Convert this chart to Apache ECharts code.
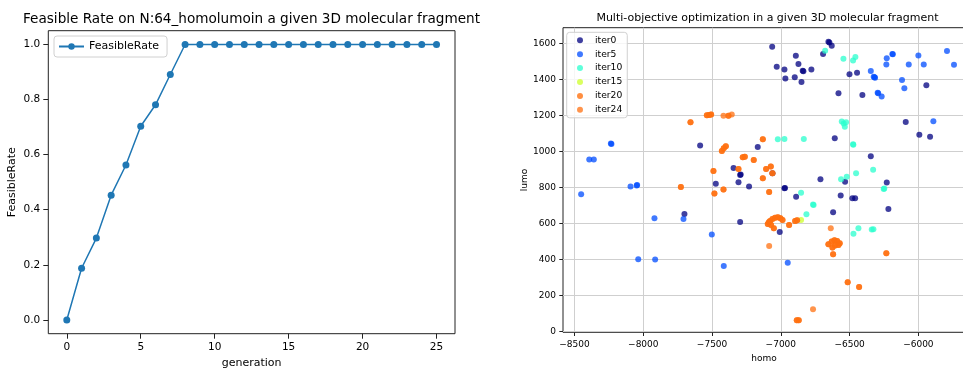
<!DOCTYPE html>
<html>
<head>
<meta charset="utf-8">
<script src="https://cdn.jsdelivr.net/npm/echarts@6/dist/echarts.min.js"></script>
<style>
  html, body { margin: 0; padding: 0; background: #fff; }
  #chart { width: 963px; height: 368px; }
</style>
</head>
<body>
<div id="chart"></div>
<script>
// left panel
var generation = [0, 1, 2, 3, 4, 5, 6, 7, 8, 9, 10, 11, 12, 13, 14, 15, 16, 17, 18, 19, 20, 21, 22, 23, 24, 25];
var feasibleRate = [0, 0.1875, 0.297, 0.453, 0.5625, 0.703, 0.781, 0.891, 1, 1, 1, 1, 1, 1, 1, 1, 1, 1, 1, 1, 1, 1, 1, 1, 1, 1];
var rateTicks = [0, 0.2, 0.4, 0.6, 0.8, 1.0];
var genTicks = [0, 5, 10, 15, 20, 25];

// right panel: [homo, lumo]
var iter0Points = [
    [-7063, 1583], [-7030, 1472], [-6974, 1457], [-6967, 1407], [-6891, 1533], [-6872, 1487],
    [-6899, 1413], [-6841, 1450], [-6836, 1447], [-6850, 1387], [-6778, 1457], [-6654, 1611],
    [-6647, 1607], [-6630, 1589], [-6693, 1543], [-6501, 1430], [-6446, 1439], [-6581, 1324],
    [-6407, 1315], [-5942, 1369], [-6092, 1165], [-5993, 1094], [-5915, 1083], [-6608, 1074],
    [-6346, 974], [-7587, 1034], [-7168, 1026], [-7344, 909], [-7296, 870], [-7292, 873],
    [-7308, 830], [-7473, 822], [-7231, 806], [-6974, 796], [-6970, 798], [-6712, 846],
    [-6533, 833], [-6230, 828], [-6565, 757], [-6480, 741], [-6460, 741], [-6889, 750],
    [-6620, 663], [-6218, 681], [-7701, 654], [-7296, 609], [-7008, 554], [-7061, 880]
];
var iter5Points = [
    [-8452, 763], [-8393, 957], [-8360, 957], [-8236, 1046], [-8232, 1043], [-8093, 806],
    [-8045, 815], [-8048, 812], [-7919, 630], [-7708, 626], [-8037, 402], [-7914, 400],
    [-7502, 539], [-7415, 365], [-6950, 383], [-6346, 1448], [-6325, 1417], [-6315, 1411],
    [-6319, 1414], [-6296, 1328], [-6292, 1325], [-6267, 1306], [-6230, 1519], [-6189, 1543],
    [-6186, 1541], [-6233, 1485], [-6070, 1485], [-6119, 1398], [-6102, 1352], [-6000, 1535],
    [-5961, 1485], [-5792, 1559], [-5741, 1483], [-5891, 1169]
];
var iter10Points = [
    [-6678, 1561], [-6545, 1517], [-6475, 1506], [-6458, 1526], [-6557, 1167], [-6543, 1157],
    [-6526, 1163], [-6535, 1139], [-7022, 1069], [-6974, 1070], [-6833, 1070], [-6475, 1041],
    [-6473, 1039], [-6329, 900], [-6453, 880], [-6521, 861], [-6562, 846], [-6252, 793],
    [-6248, 795], [-6853, 772], [-6766, 706], [-6762, 704], [-6814, 652], [-6472, 544],
    [-6436, 574], [-6339, 567], [-6327, 569]
];
var iter15Points = [[-6853, 620]];
var iter20Points = [
    [-7657, 1163], [-7538, 1202], [-7521, 1204], [-7507, 1207], [-7381, 1200], [-7131, 1069],
    [-7429, 1004], [-7415, 1019], [-7400, 1030], [-7277, 969], [-7262, 972], [-7197, 954],
    [-7490, 893], [-7308, 904], [-7107, 904], [-7073, 917], [-7061, 880], [-7131, 852],
    [-7727, 804], [-7417, 790], [-7483, 767], [-7085, 776],
    [-7095, 598], [-7087, 607], [-7078, 615], [-7061, 626], [-7042, 632], [-7022, 635],
    [-7003, 630], [-6988, 620], [-7071, 593], [-7051, 574],
    [-6940, 593], [-6896, 615], [-6882, 619],
    [-6654, 485], [-6630, 500], [-6610, 507], [-6591, 504], [-6572, 491], [-6606, 478],
    [-6625, 467], [-6581, 481],
    [-6620, 430], [-6233, 435], [-6514, 274], [-6431, 248], [-6884, 63], [-6870, 63]
];
var iter24Points = [
    [-7657, 1163], [-7538, 1202], [-7521, 1204], [-7507, 1207], [-7381, 1200], [-7131, 1069],
    [-7429, 1004], [-7415, 1019], [-7400, 1030], [-7277, 969], [-7262, 972], [-7197, 954],
    [-7490, 893], [-7308, 904], [-7107, 904], [-7073, 917], [-7061, 880], [-7131, 852],
    [-7727, 804], [-7417, 790], [-7483, 767], [-7085, 776],
    [-7095, 598], [-7087, 607], [-7078, 615], [-7061, 626], [-7042, 632], [-7022, 635],
    [-7003, 630], [-6988, 620], [-7071, 593], [-7051, 574],
    [-6940, 593], [-6896, 615], [-6882, 619],
    [-6654, 485], [-6630, 500], [-6610, 507], [-6591, 504], [-6572, 491], [-6606, 478],
    [-6625, 467], [-6581, 481],
    [-6620, 430], [-6233, 435], [-6514, 274], [-6431, 248], [-6884, 63], [-6870, 63],
    [-7417, 1200], [-7357, 1207], [-7085, 476], [-6637, 574], [-6766, 124]
];
var homoTicks = [-8500, -8000, -7500, -7000, -6500, -6000];
var lumoTicks = [0, 200, 400, 600, 800, 1000, 1200, 1400, 1600];

var iterNames = ['iter0', 'iter5', 'iter10', 'iter15', 'iter20', 'iter24'];
var iterColors = ['rgb(0,0,128)', 'rgb(0,76,255)', 'rgb(41,255,206)', 'rgb(206,255,41)', 'rgb(255,104,0)', 'rgb(255,112,16)'];
var iterData = [iter0Points, iter5Points, iter10Points, iter15Points, iter20Points, iter24Points];

var FONT = 'DejaVu Sans';
var minus = function (v) { return String(v).replace('-', '\u2212'); };

var chart = echarts.init(document.getElementById('chart'), null, { renderer: 'canvas' });

var scatterSeries = iterNames.map(function (name, i) {
    return {
        name: name,
        type: 'scatter',
        xAxisIndex: 1,
        yAxisIndex: 1,
        symbolSize: 6,
        itemStyle: { color: iterColors[i], opacity: 0.75 },
        emphasis: { disabled: true },
        data: iterData[i]
    };
});

function titleText(x, y, text, size) {
    return {
        type: 'text',
        x: x,
        y: y,
        style: {
            text: text,
            font: size + 'px "' + FONT + '"',
            fill: '#000',
            textAlign: 'center',
            textVerticalAlign: 'middle',
            align: 'center',
            verticalAlign: 'middle'
        }
    };
}

chart.setOption({
    animation: false,
    textStyle: { fontFamily: FONT },
    graphic: [
        titleText(251.5, 19, 'Feasible Rate on N:64_homolumoin a given 3D molecular fragment', 13.6),
        titleText(767.5, 18.5, 'Multi-objective optimization in a given 3D molecular fragment', 11)
    ],
    legend: [
        {
            left: 54, top: 36,
            padding: [4, 8, 4, 4],
            itemWidth: 25, itemHeight: 8,
            backgroundColor: 'rgba(255,255,255,0.8)',
            borderColor: '#d0d0d0', borderWidth: 1, borderRadius: 3,
            textStyle: { fontFamily: FONT, fontSize: 11, color: '#000', lineHeight: 13 },
            data: ['FeasibleRate']
        },
        {
            orient: 'vertical',
            left: 566.7, top: 32.3,
            padding: [3, 5, 3, 10.3],
            icon: 'circle',
            itemWidth: 20, itemHeight: 6, itemGap: 3.9,
            backgroundColor: 'rgba(255,255,255,0.8)',
            borderColor: '#d0d0d0', borderWidth: 1, borderRadius: 3,
            textStyle: { fontFamily: FONT, fontSize: 9.2, color: '#000', lineHeight: 10 },
            data: iterNames
        }
    ],
    grid: [
        { left: 48.3, top: 30.7, width: 406.7, height: 303, show: true, borderColor: '#222', borderWidth: 1, outerBoundsMode: 'none' },
        { left: 563, top: 27.7, width: 402, height: 304.6, show: true, borderColor: '#222', borderWidth: 1, outerBoundsMode: 'none' }
    ],
    xAxis: [
        {
            gridIndex: 0, type: 'value', min: -1.25, max: 26.25,
            name: 'generation', nameLocation: 'middle', nameGap: 23,
            nameTextStyle: { fontFamily: FONT, fontSize: 11, color: '#000' },
            axisLine: { show: false, onZero: false },
            axisTick: { show: true, inside: false, length: 5, lineStyle: { color: '#222' }, customValues: genTicks },
            axisLabel: { customValues: genTicks, margin: 8, fontSize: 10.5, color: '#000', fontFamily: FONT },
            splitLine: { show: false }
        },
        {
            gridIndex: 1, type: 'value', min: -8584, max: -5661,
            name: 'homo', nameLocation: 'middle', nameGap: 20,
            nameTextStyle: { fontFamily: FONT, fontSize: 9, color: '#000' },
            axisLine: { show: false, onZero: false },
            axisTick: { show: true, inside: false, length: 3.7, lineStyle: { color: '#222' }, customValues: homoTicks },
            axisLabel: { customValues: homoTicks, margin: 7.5, fontSize: 9, color: '#000', fontFamily: FONT, formatter: minus },
            splitLine: { show: true, lineStyle: { color: '#cfcfcf', width: 1 } }
        }
    ],
    yAxis: [
        {
            gridIndex: 0, type: 'value', min: -0.05, max: 1.05,
            name: 'FeasibleRate', nameLocation: 'middle', nameGap: 31,
            nameTextStyle: { fontFamily: FONT, fontSize: 11, color: '#000' },
            axisLine: { show: false, onZero: false },
            axisTick: { show: true, inside: false, length: 5, lineStyle: { color: '#222' }, customValues: rateTicks },
            axisLabel: { customValues: rateTicks, margin: 8, fontSize: 10.5, color: '#000', fontFamily: FONT,
                formatter: function (v) { return v.toFixed(1); } },
            splitLine: { show: false }
        },
        {
            gridIndex: 1, type: 'value', min: -4, max: 1689,
            name: 'lumo', nameLocation: 'middle', nameGap: 29,
            nameTextStyle: { fontFamily: FONT, fontSize: 9, color: '#000' },
            axisLine: { show: false, onZero: false },
            axisTick: { show: true, inside: false, length: 3.7, lineStyle: { color: '#222' }, customValues: lumoTicks },
            axisLabel: { customValues: lumoTicks, margin: 7, fontSize: 9, color: '#000', fontFamily: FONT,
                formatter: function (v) { return String(v); } },
            splitLine: { show: true, lineStyle: { color: '#cfcfcf', width: 1 } }
        }
    ],
    series: [
        {
            name: 'FeasibleRate',
            type: 'line',
            xAxisIndex: 0,
            yAxisIndex: 0,
            symbol: 'circle',
            symbolSize: 7,
            lineStyle: { color: '#1f77b4', width: 1.5 },
            itemStyle: { color: '#1f77b4' },
            emphasis: { disabled: true },
            data: generation.map(function (g, i) { return [g, feasibleRate[i]]; })
        }
    ].concat(scatterSeries)
});
</script>
</body>
</html>
